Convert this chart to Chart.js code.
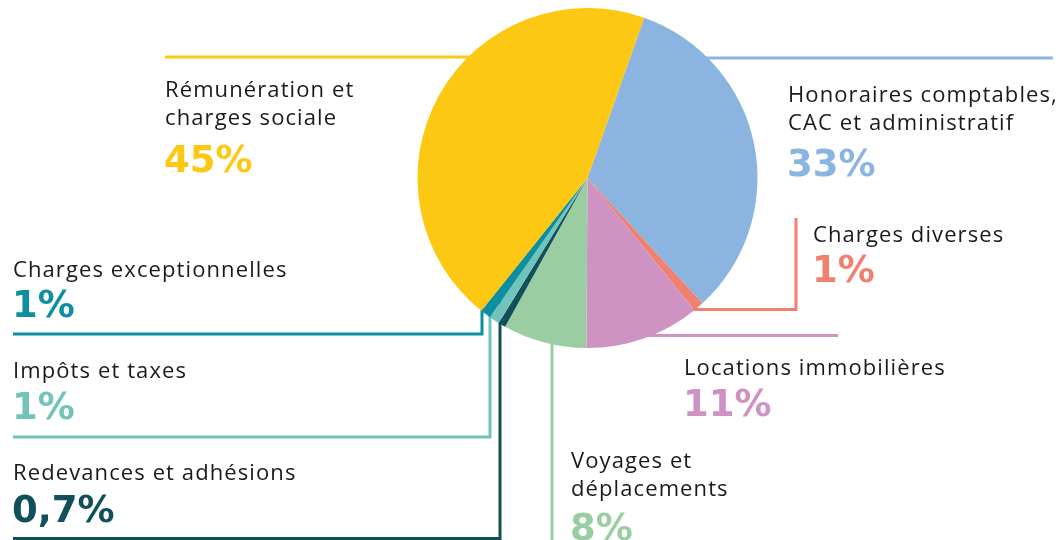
<!DOCTYPE html>
<html>
<head>
<meta charset="utf-8">
<script src="https://cdn.jsdelivr.net/npm/chart.js@4"></script>
<style>
  html, body { margin: 0; padding: 0; background: #ffffff; }
  #wrap { position: relative; width: 1059px; height: 540px; overflow: hidden; }
  #c { position: absolute; left: 0; top: 0; }
  .lbl { position: absolute; white-space: pre; }
  .name { font-family: "Open Sans", sans-serif; font-size: 22px; line-height: 28px; letter-spacing: 1.1px; color: #1a1a1a; }
  .pct { font-family: "DejaVu Sans", sans-serif; font-weight: 700; font-size: 37px; line-height: 40px; }
</style>
</head>
<body>
<div id="wrap">
  <canvas id="c" width="1059" height="540"></canvas>
</div>
<script>
// ---- data ----
const categories = [
  "Honoraires comptables,\nCAC et administratif",
  "Charges diverses",
  "Locations immobilières",
  "Voyages et\ndéplacements",
  "Redevances et adhésions",
  "Impôts et taxes",
  "Charges exceptionnelles",
  "Rémunération et\ncharges sociale"
];
const values = [33, 1, 11, 8, 0.7, 1, 1, 45];
const valueLabels = ["33%", "1%", "11%", "8%", "0,7%", "1%", "1%", "45%"];
const colors = ["#8bb4e0", "#f08070", "#cf93c3", "#9bcda2", "#114f5a", "#72c3b9", "#0e8fa0", "#fdc813"];

// ---- layout (label positions & leader lines) ----
const labelPos = [
  { x: 788, nameBase: 102, pctBase: 177 },
  { x: 813, nameBase: 242, pctBase: 283 },
  { x: 684, nameBase: 375, pctBase: 417 },
  { x: 571, nameBase: 468, pctBase: 541 },
  { x: 13,  nameBase: 480, pctBase: 523 },
  { x: 13,  nameBase: 378, pctBase: 420 },
  { x: 13,  nameBase: 277, pctBase: 318 },
  { x: 165, nameBase: 97,  pctBase: 173 }
];
const leaders = [
  [[680, 58], [1053, 58]],
  [[680, 309.5], [796, 309.5], [796, 218]],
  [[600, 335.5], [838, 335.5]],
  [[552, 300], [552, 545]],
  [[500, 300], [500, 538.5], [13, 538.5]],
  [[490, 300], [490, 437], [13, 437]],
  [[482, 300], [482, 334], [13, 334]],
  [[165, 57], [520, 57]]
];

const leaderPlugin = {
  id: 'leaders',
  beforeDatasetsDraw(chart) {
    const ctx = chart.ctx;
    ctx.save();
    ctx.lineWidth = 3;
    ctx.lineCap = 'butt';
    ctx.lineJoin = 'miter';
    leaders.forEach((pts, i) => {
      ctx.strokeStyle = colors[i];
      ctx.beginPath();
      pts.forEach((p, j) => j ? ctx.lineTo(p[0], p[1]) : ctx.moveTo(p[0], p[1]));
      ctx.stroke();
    });
    ctx.restore();
  }
};

new Chart(document.getElementById('c'), {
  type: 'pie',
  data: {
    labels: categories,
    datasets: [{
      data: values,
      backgroundColor: colors,
      borderWidth: 0
    }]
  },
  options: {
    responsive: false,
    animation: false,
    rotation: 19.5,
    layout: { padding: { left: 417, right: 301, top: 8, bottom: 192 } },
    plugins: { legend: { display: false }, tooltip: { enabled: false } },
    events: []
  },
  plugins: [leaderPlugin]
});

// ---- HTML labels ----
const wrap = document.getElementById('wrap');
// baseline offsets inside line boxes (font metrics)
const nameOff = (28 - 22 * 1.362) / 2 + 22 * 1.069;
const pctOff = (40 - 37 * 1.164) / 2 + 37 * 0.928;
categories.forEach((cat, i) => {
  const p = labelPos[i];
  const n = document.createElement('div');
  n.className = 'lbl name';
  n.textContent = cat;
  n.style.left = p.x + 'px';
  n.style.top = (p.nameBase - nameOff) + 'px';
  wrap.appendChild(n);
  const v = document.createElement('div');
  v.className = 'lbl pct';
  v.textContent = valueLabels[i];
  v.style.color = colors[i];
  v.style.left = (p.x - 1) + 'px';
  v.style.top = (p.pctBase - pctOff) + 'px';
  wrap.appendChild(v);
});
</script>
</body>
</html>
